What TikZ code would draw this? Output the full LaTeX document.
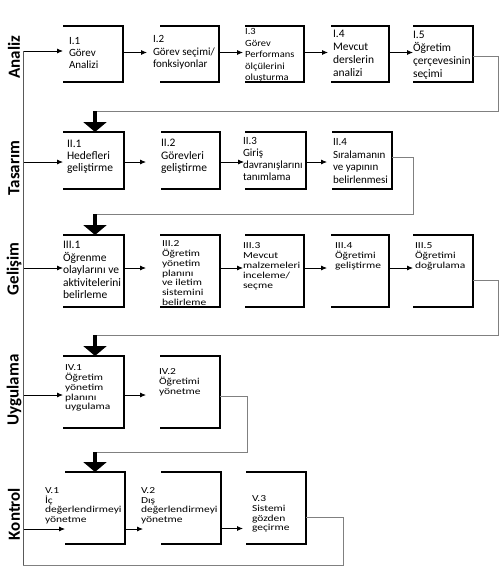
\documentclass[tikz,border=0pt]{standalone}
\usepackage{fontspec}
\setmainfont{Carlito}
\usetikzlibrary{arrows.meta,calc}
\begin{document}
\begin{tikzpicture}[x=1pt,y=-1pt,
  box/.style={draw=none,inner sep=0pt,outer sep=0pt,anchor=north west},
  boxline/.style={line width=1.6pt,black,line join=miter},
  txt/.style={anchor=north west,inner sep=0pt,outer sep=0pt,align=left,font=\fontsize{11}{#1}\selectfont},
  txtb/.style={anchor=north west,inner sep=0pt,outer sep=0pt,align=left,font=\fontsize{11.5}{#1}\selectfont},
  txts/.style={anchor=north west,inner sep=0pt,outer sep=0pt,align=left,yscale=0.8,transform shape,font=\fontsize{11.5}{#1}\selectfont},
  arr/.style={line width=0.8pt,black,-{Latex[length=6pt,width=5pt]}},
  fb/.style={line width=1pt,black!50},
  mainline/.style={line width=1pt,black!65},
  bigarr/.style={line width=3.5pt,black,-{Triangle[length=10pt,width=23pt]}},
  phase/.style={rotate=90,inner sep=0pt,font=\fontsize{17}{20}\selectfont\bfseries}]
\useasboundingbox (0,0) rectangle (502,581);

% phase labels
\node[phase] (pA) at (14,57) {Analiz};
\node[phase] (pT) at (14,168) {Tasarım};
\node[phase] (pG) at (14,269) {Gelişim};
\node[phase] (pU) at (14,390) {Uygulama};
\node[phase] (pK) at (14,514) {Kontrol};

% row 1 boxes
\node[box,minimum width=60pt,minimum height=56pt] (i1) at (63,26) {};
\node[box,minimum width=59pt,minimum height=56pt] (i2) at (160,26) {};
\node[box,minimum width=59pt,minimum height=56pt] (i3) at (245,26) {};
\node[box,minimum width=58pt,minimum height=56pt] (i4) at (331,26) {};
\node[box,minimum width=60pt,minimum height=56pt] (i5) at (413,26) {};
% row 2 boxes
\node[box,minimum width=61pt,minimum height=57pt] (ii1) at (63,132) {};
\node[box,minimum width=59pt,minimum height=57pt] (ii2) at (161,132) {};
\node[box,minimum width=61pt,minimum height=57pt] (ii3) at (245,132) {};
\node[box,minimum width=60pt,minimum height=57pt] (ii4) at (332,132) {};
% row 3 boxes
\node[box,minimum width=61pt,minimum height=72pt] (iii1) at (63,235) {};
\node[box,minimum width=60pt,minimum height=72pt] (iii2) at (160,235) {};
\node[box,minimum width=59pt,minimum height=72pt] (iii3) at (245,235) {};
\node[box,minimum width=58pt,minimum height=72pt] (iii4) at (331,235) {};
\node[box,minimum width=60pt,minimum height=72pt] (iii5) at (413,235) {};
% row 4 boxes
\node[box,minimum width=61pt,minimum height=72pt] (iv1) at (63,356) {};
\node[box,minimum width=60pt,minimum height=72pt] (iv2) at (160,356) {};
% row 5 boxes
\node[box,minimum width=60pt,minimum height=72pt] (v1) at (65,472) {};
\node[box,minimum width=60pt,minimum height=72pt] (v2) at (161,472) {};
\node[box,minimum width=60pt,minimum height=72pt] (v3) at (246,472) {};

\foreach \b in {i1,i2,i3,i4,i5,ii1,ii2,ii3,ii4,iii1,iii2,iii3,iii4,iii5,iv1,iv2,v1,v2,v3}
  \draw[boxline] (\b.north west) -- (\b.north east) -- (\b.south east) -- (\b.south west);

% texts
\node[txt=12] (i1t) at (69,37.5) {I.1\\Görev\\Analizi};
\node[txt=12.5] (i2t) at (153,35.5) {I.2\\Görev seçimi/\\fonksiyonlar};
\node[anchor=north west,inner sep=0pt,align=left,yscale=0.9,transform shape,font=\fontsize{10.5}{12.8}\selectfont] (i3t) at (245,28.5) {I.3\\Görev\\Performans\\ölçülerini\\oluşturma};
\node[txtb=13] (i4t) at (333,30.5) {I.4\\Mevcut\\derslerin\\analizi};
\node[txtb=13] (i5t) at (413,31.5) {I.5\\Öğretim\\çerçevesinin\\seçimi};

\node[txtb=12] (ii1t) at (67,140.5) {II.1\\Hedefleri\\geliştirme};
\node[txtb=12.5] (ii2t) at (161,139.5) {II.2\\Görevleri\\geliştirme};
\node[txt=12] (ii3t) at (243,137.5) {II.3\\Giriş\\davranışlarını\\tanımlama};
\node[txt=12.7] (ii4t) at (333,138.5) {II.4\\Sıralamanın\\ve yapının\\belirlenmesi};

\node[txtb=12.5] (iii1t) at (63,241.5) {III.1\\Öğrenme\\olaylarını ve\\aktivitelerini\\belirleme};
\node[txts=12.1] (iii2t) at (162,241) {III.2\\Öğretim\\yönetim\\planını\\ve iletim\\sistemini\\belirleme};
\node[txts=12.5] (iii3t) at (243,243) {III.3\\Mevcut\\malzemeleri\\inceleme/\\seçme};
\node[txts=12.5] (iii4t) at (335,243) {III.4\\Öğretimi\\geliştirme};
\node[txts=12.5] (iii5t) at (415,243) {III.5\\Öğretimi\\doğrulama};

\node[txts=12.2] (iv1t) at (65,365) {IV.1\\Öğretim\\yönetim\\planını\\uygulama};
\node[txts=12.1] (iv2t) at (159,369) {IV.2\\Öğretimi\\yönetme};

\node[txts=11.7] (v1t) at (45,488) {V.1\\İç\\değerlendirmeyi\\yönetme};
\node[txts=11.7] (v2t) at (141,488) {V.2\\Dış\\değerlendirmeyi\\yönetme};
\node[txts=11.9] (v3t) at (252,496) {V.3\\Sistemi\\gözden\\geçirme};

% row y-levels and corners
\coordinate (L1) at (23,51);
\coordinate (L2) at (23,162);
\coordinate (L3) at (23,268);
\coordinate (L4) at (23,395);
\coordinate (L5) at (23,529);
\coordinate (a1) at (0,52.5);
\coordinate (a2) at (0,162);
\coordinate (a3) at (0,268);
\coordinate (a4) at (0,395);
\coordinate (a5) at (0,528.5);

% main left line and input arrows
\foreach \r/\b in {L1/i1,L2/ii1,L3/iii1,L4/iv1,L5/v1}
  \draw[arr] (\r) -- (\b.west |- \r);

% in-row arrows
\draw[arr] (i1.east |- a1) -- ($(i2.west |- a1)+(-13,0)$);
\draw[arr] (i2.east |- a1) -- ($(i3.west |- a1)+(-2,0)$);
\draw[arr] (i3.east |- a1) -- ($(i4.west |- a1)+(-3,0)$);
\draw[arr] (i4.east |- a1) -- (i5.west |- a1);

\draw[arr] (ii1.east |- a2) -- ($(ii2.west |- a2)+(-15,0)$);
\draw[arr] (ii2.east |- a2) -- ($(ii3.west |- a2)+(-1,0)$);
\draw[arr] (ii3.east |- a2) -- ($(ii4.west |- a2)+(-5,0)$);

\draw[arr] (iii1.east |- a3) -- ($(iii2.west |- a3)+(-14,0)$);
\draw[arr] (iii2.east |- a3) -- ($(iii3.west |- a3)+(-2,0)$);
\draw[arr] (iii3.east |- a3) -- ($(iii4.west |- a3)+(-4,0)$);
\draw[arr] (iii4.east |- a3) -- (iii5.west |- a3);

\draw[arr] (iv1.east |- a4) -- ($(iv2.west |- a4)+(-14,0)$);

\draw[arr] (v1.east |- L5) -- ($(v2.west |- L5)+(-18,0)$);
\draw[arr] (v2.east |- a5) -- ($(v3.west |- a5)+(-3,0)$);

% feedback loops
\coordinate (f1a) at (498,56);  \coordinate (f1b) at (498,111); \coordinate (f1c) at (95,111);
\coordinate (f2a) at (413,157); \coordinate (f2b) at (413,214); \coordinate (f2c) at (95,214);
\coordinate (f3a) at (498,280); \coordinate (f3b) at (498,335); \coordinate (f3c) at (95,335);
\coordinate (f4a) at (247,396); \coordinate (f4b) at (247,452); \coordinate (f4c) at (95,452);
\coordinate (f5a) at (343,517); \coordinate (f5b) at (343,565); \coordinate (f5c) at (23,565);

\draw[fb] (i5.east |- f1a) -- (f1a) -- (f1b) -- (f1c);
\draw[fb] (ii4.east |- f2a) -- (f2a) -- (f2b) -- (f2c);
\draw[fb] (iii5.east |- f3a) -- (f3a) -- (f3b) -- (f3c);
\draw[fb] (iv2.east |- f4a) -- (f4a) -- (f4b) -- (f4c);
\draw[fb] (v3.east |- f5a) -- (f5a) -- (f5b) -- (f5c);
\draw[mainline] (f5c) -- (L1);

\draw[bigarr] (f1c) -- (ii1.north -| f1c);
\draw[bigarr] (f2c) -- (iii1.north -| f2c);
\draw[bigarr] (f3c) -- (iv1.north -| f3c);
\draw[bigarr] (f4c) -- (v1.north -| f4c);
\end{tikzpicture}
\end{document}
